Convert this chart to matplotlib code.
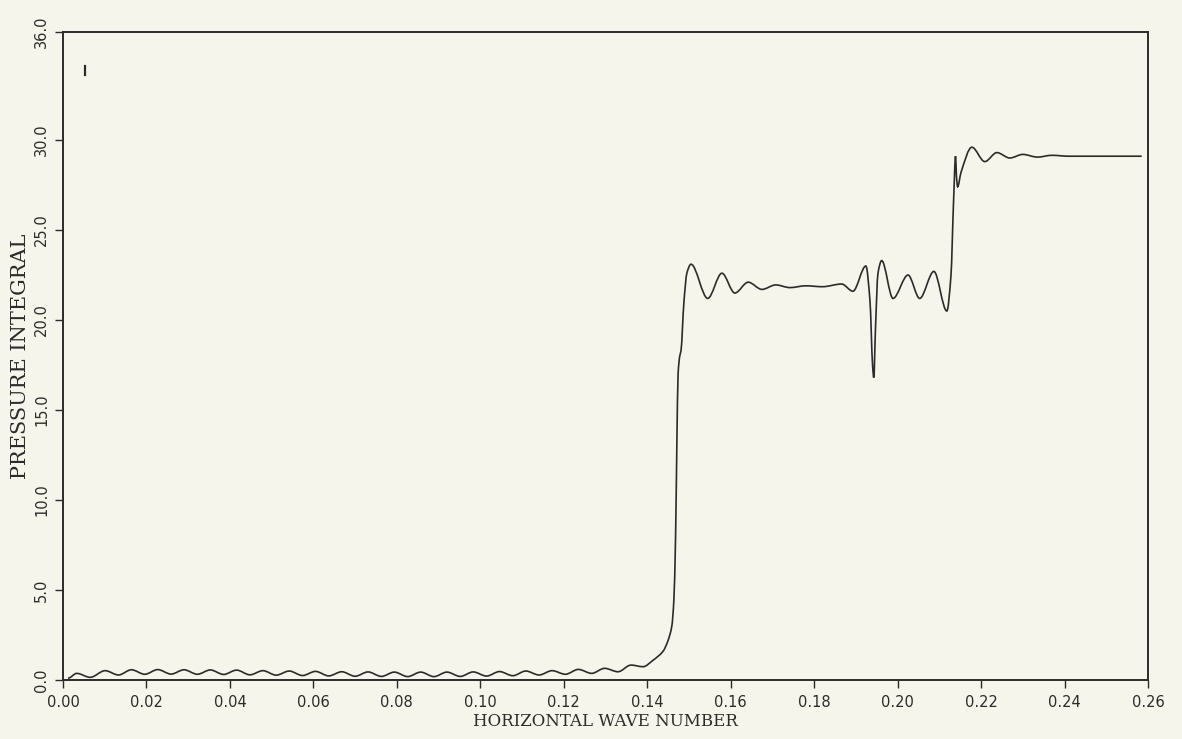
import numpy as np
import matplotlib
matplotlib.use('Agg')
import matplotlib.pyplot as plt
from matplotlib.path import Path
from matplotlib.patches import PathPatch

# --- data ---
wave_number = [
    0.0012, 0.0033, 0.0065, 0.0101, 0.0133, 0.0164, 0.0196, 0.0227, 0.0259, 0.0290,
    0.0322, 0.0353, 0.0385, 0.0416, 0.0448, 0.0479, 0.0511, 0.0542, 0.0574, 0.0605,
    0.0637, 0.0668, 0.0700, 0.0731, 0.0763, 0.0794, 0.0826, 0.0857, 0.0889, 0.0920,
    0.0952, 0.0983, 0.1015, 0.1046, 0.1078, 0.1109, 0.1141, 0.1172, 0.1204, 0.1235,
    0.1267, 0.1298, 0.1330, 0.1361, 0.1390, 0.1414, 0.1438, 0.1450, 0.1459, 0.1464,
    0.1468, 0.1471, 0.1474, 0.1478, 0.1481, 0.1488, 0.1495, 0.1505, 0.1545, 0.1579,
    0.1610, 0.1642, 0.1675, 0.1708, 0.1742, 0.1780, 0.1820, 0.1866, 0.1893, 0.1924,
    0.1934, 0.1940, 0.1943, 0.1947, 0.1953, 0.1962, 0.1989, 0.2025, 0.2053, 0.2087,
    0.2118, 0.2128, 0.2134, 0.2139, 0.2141, 0.2144, 0.2152, 0.2178, 0.2209, 0.2238,
    0.2269, 0.2300, 0.2335, 0.2370, 0.2410, 0.2460, 0.2520, 0.2585,
]
pressure_integral = [
    0.10, 0.37, 0.15, 0.52, 0.28, 0.57, 0.32, 0.58, 0.33, 0.57,
    0.32, 0.56, 0.31, 0.55, 0.29, 0.52, 0.27, 0.50, 0.25, 0.48,
    0.23, 0.46, 0.21, 0.45, 0.20, 0.44, 0.19, 0.44, 0.19, 0.44,
    0.20, 0.45, 0.22, 0.47, 0.24, 0.50, 0.28, 0.52, 0.32, 0.59,
    0.37, 0.65, 0.46, 0.83, 0.74, 1.10, 1.60, 2.20, 3.00, 4.50,
    8.00, 13.0, 17.0, 18.0, 18.3, 21.0, 22.6, 23.1, 21.2, 22.6,
    21.5, 22.1, 21.7, 21.95, 21.8, 21.9, 21.85, 22.0, 21.6, 23.0,
    21.0, 17.5, 16.8, 19.5, 22.6, 23.3, 21.2, 22.5, 21.2, 22.7,
    20.5, 22.5, 26.5, 29.1, 28.0, 27.4, 28.2, 29.6, 28.8, 29.3,
    29.0, 29.2, 29.05, 29.15, 29.1, 29.1, 29.1, 29.1,
]

# stray pen mark near the top-left corner
mark_x = [0.0053, 0.0053]
mark_y = [33.6, 34.1]

y_ticks = [0, 5, 10, 15, 20, 25, 30, 36]
y_tick_labels = ['0.0', '5.0', '10.0', '15.0', '20.0', '25.0', '30.0', '36.0']
x_ticks = [0.00, 0.02, 0.04, 0.06, 0.08, 0.10, 0.12, 0.14, 0.16, 0.18, 0.20, 0.22, 0.24, 0.26]
x_tick_labels = ['0.00', '0.02', '0.04', '0.06', '0.08', '0.10', '0.12', '0.14',
                 '0.16', '0.18', '0.20', '0.22', '0.24', '0.26']

paper = '#f5f5eb'
ink = '#2b2b2b'


def smooth_path(xs, ys):
    """Cubic pieces through the points; flat tangents at turning points."""
    x = np.asarray(xs, float)
    y = np.asarray(ys, float)
    d = np.diff(y) / np.diff(x)
    m = np.zeros_like(y)
    for i in range(1, len(y) - 1):
        if d[i - 1] * d[i] > 0:
            m[i] = 2.0 / (1.0 / d[i - 1] + 1.0 / d[i])
    verts = [(x[0], y[0])]
    codes = [Path.MOVETO]
    for i in range(len(x) - 1):
        h = x[i + 1] - x[i]
        verts += [(x[i] + h / 3, y[i] + m[i] * h / 3),
                  (x[i + 1] - h / 3, y[i + 1] - m[i + 1] * h / 3),
                  (x[i + 1], y[i + 1])]
        codes += [Path.CURVE4] * 3
    return Path(verts, codes)


fig = plt.figure(figsize=(11.82, 7.39), dpi=100, facecolor=paper)
ax = fig.add_axes([0.0533, 0.0798, 0.9179, 0.8769], facecolor=paper)

ax.add_patch(PathPatch(smooth_path(wave_number, pressure_integral),
                       facecolor='none', edgecolor=ink, lw=1.2))
ax.plot(mark_x, mark_y, color=ink, lw=1.6)

ax.set_xlim(0.0, 0.26)
ax.set_ylim(0.0, 36.0)

ax.set_xticks(x_ticks)
ax.set_xticklabels(x_tick_labels, fontfamily='DejaVu Sans', fontsize=10.5, color=ink)
ax.set_yticks(y_ticks)
ax.set_yticklabels(y_tick_labels, fontfamily='DejaVu Sans', fontsize=10.5, color=ink,
                   rotation=90, va='center')
ax.tick_params(axis='both', direction='out', length=6, width=1.0, color=ink)
ax.tick_params(axis='x', pad=5)
ax.tick_params(axis='y', pad=4)

for side in ['left', 'right', 'top', 'bottom']:
    ax.spines[side].set_color(ink)
    ax.spines[side].set_linewidth(1.4)

ax.set_xlabel('HORIZONTAL WAVE NUMBER', fontfamily='DejaVu Serif', fontsize=12,
              color=ink, labelpad=2)
ax.set_ylabel('PRESSURE INTEGRAL', fontfamily='DejaVu Serif', fontsize=15,
              color=ink, labelpad=3)

fig.savefig('out.png', dpi=100, facecolor=paper)
